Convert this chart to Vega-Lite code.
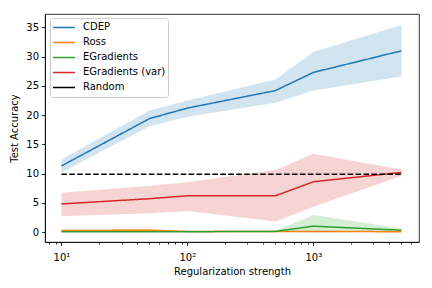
{
  "$schema": "https://vega.github.io/schema/vega-lite/v6.json",
  "width": 374,
  "height": 228,
  "autosize": {"type": "none"},
  "padding": {"left": 45, "top": 14, "right": 13, "bottom": 46},
  "background": "white",
  "config": {
    "font": "DejaVu Sans",
    "view": {"stroke": "#000000", "strokeWidth": 0.8},
    "axis": {
      "grid": false,
      "domainColor": "#000000",
      "domainWidth": 0.8,
      "tickColor": "#000000",
      "tickWidth": 0.8,
      "labelFont": "DejaVu Sans",
      "labelFontSize": 10,
      "labelColor": "#000000",
      "titleFont": "DejaVu Sans",
      "titleFontSize": 10,
      "titleFontWeight": "normal",
      "titleColor": "#000000"
    }
  },
  "data": {
    "values": [
      {"series": "CDEP", "x": 10, "y": 11.3, "lo": 10.2, "hi": 12.4},
      {"series": "CDEP", "x": 50, "y": 19.4, "lo": 18.1, "hi": 20.8},
      {"series": "CDEP", "x": 100, "y": 21.2, "lo": 19.7, "hi": 22.5},
      {"series": "CDEP", "x": 500, "y": 24.2, "lo": 22.1, "hi": 26.1},
      {"series": "CDEP", "x": 1000, "y": 27.3, "lo": 24.2, "hi": 30.8},
      {"series": "CDEP", "x": 5000, "y": 31.0, "lo": 26.6, "hi": 35.4},
      {"series": "Ross", "x": 10, "y": 0.25, "lo": 0.05, "hi": 0.45},
      {"series": "Ross", "x": 50, "y": 0.3, "lo": 0.1, "hi": 0.5},
      {"series": "Ross", "x": 100, "y": 0.1, "lo": 0.0, "hi": 0.2},
      {"series": "Ross", "x": 500, "y": 0.1, "lo": 0.0, "hi": 0.2},
      {"series": "Ross", "x": 1000, "y": 0.1, "lo": 0.0, "hi": 0.2},
      {"series": "Ross", "x": 5000, "y": 0.05, "lo": 0.0, "hi": 0.15},
      {"series": "EGradients", "x": 10, "y": 0.05, "lo": 0.0, "hi": 0.1},
      {"series": "EGradients", "x": 50, "y": 0.05, "lo": 0.0, "hi": 0.1},
      {"series": "EGradients", "x": 100, "y": 0.05, "lo": 0.0, "hi": 0.1},
      {"series": "EGradients", "x": 500, "y": 0.1, "lo": 0.0, "hi": 0.2},
      {"series": "EGradients", "x": 1000, "y": 1.0, "lo": -0.1, "hi": 2.9},
      {"series": "EGradients", "x": 5000, "y": 0.3, "lo": 0.0, "hi": 0.6},
      {"series": "EGradients (var)", "x": 10, "y": 4.8, "lo": 2.7, "hi": 6.7},
      {"series": "EGradients (var)", "x": 50, "y": 5.7, "lo": 3.2, "hi": 7.9},
      {"series": "EGradients (var)", "x": 100, "y": 6.2, "lo": 3.6, "hi": 8.5},
      {"series": "EGradients (var)", "x": 500, "y": 6.2, "lo": 1.8, "hi": 10.6},
      {"series": "EGradients (var)", "x": 1000, "y": 8.6, "lo": 4.3, "hi": 13.4},
      {"series": "EGradients (var)", "x": 5000, "y": 10.2, "lo": 9.6, "hi": 10.7},
      {"series": "Random", "x": 10, "y": 9.9},
      {"series": "Random", "x": 5000, "y": 9.9}
    ]
  },
  "encoding": {
    "x": {
      "field": "x",
      "type": "quantitative",
      "title": "Regularization strength",
      "scale": {"type": "log", "domain": [7.41, 6900], "nice": false},
      "axis": {
        "values": [8, 9, 10, 20, 30, 40, 50, 60, 70, 80, 90, 100, 200, 300, 400, 500, 600, 700, 800, 900, 1000, 2000, 3000, 4000, 5000, 6000],
        "labelExpr": "datum.value == 10 ? '10¹' : datum.value == 100 ? '10²' : datum.value == 1000 ? '10³' : ''",
        "labelOverlap": false,
        "labelFlush": false,
        "tickSize": {"condition": {"test": "datum.value == 10 || datum.value == 100 || datum.value == 1000", "value": 3.5}, "value": 2},
        "labelPadding": 7,
        "titlePadding": 4
      }
    },
    "color": {
      "field": "series",
      "type": "nominal",
      "scale": {
        "domain": ["CDEP", "Ross", "EGradients", "EGradients (var)", "Random"],
        "range": ["#1f77b4", "#ff7f0e", "#2ca02c", "#d62728", "#000000"]
      },
      "legend": {
        "title": null,
        "orient": "none",
        "legendX": 5,
        "legendY": 4,
        "symbolType": "stroke",
        "symbolStrokeWidth": 1.5,
        "symbolSize": 484,
        "symbolOpacity": 1,
        "clipHeight": 14.75,
        "labelFontSize": 10,
        "labelFont": "DejaVu Sans",
        "labelColor": "#000000",
        "strokeColor": "#cccccc",
        "fillColor": "#ffffff",
        "cornerRadius": 3,
        "padding": 2,
        "rowPadding": 0,
        "labelOffset": 7
      }
    }
  },
  "layer": [
    {
      "transform": [{"filter": "datum.series !== 'Random'"}],
      "mark": {"type": "area", "opacity": 0.2},
      "encoding": {
        "y": {
          "field": "lo",
          "type": "quantitative",
          "title": "Test Accuracy",
          "scale": {"domain": [-1.71, 37.3], "nice": false, "zero": false},
          "axis": {"values": [0, 5, 10, 15, 20, 25, 30, 35], "tickSize": 3.5, "labelPadding": 3, "titlePadding": 6, "labelOverlap": false}
        },
        "y2": {"field": "hi"},
        "detail": {"field": "series"}
      }
    },
    {
      "mark": {"type": "line", "strokeWidth": 1.5},
      "encoding": {
        "y": {
          "field": "y",
          "type": "quantitative",
          "title": "Test Accuracy",
          "scale": {"domain": [-1.71, 37.3], "nice": false, "zero": false},
          "axis": {"values": [0, 5, 10, 15, 20, 25, 30, 35], "tickSize": 3.5, "labelPadding": 3, "titlePadding": 6, "labelOverlap": false}
        },
        "strokeDash": {
          "condition": {"test": "datum.series == 'Random'", "value": [5.55, 2.4]},
          "value": [1, 0]
        }
      }
    }
  ]
}
